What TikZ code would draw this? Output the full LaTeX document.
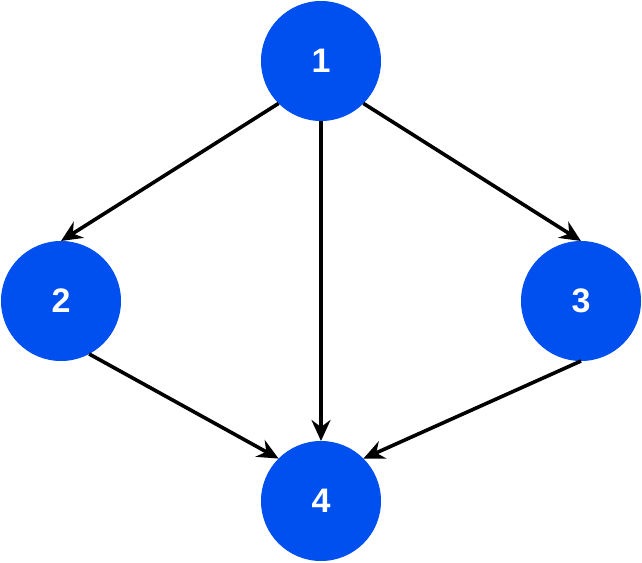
\documentclass[tikz,border=0pt]{standalone}
\usepackage{fontspec}
\setmainfont{Liberation Sans}
\usetikzlibrary{arrows.meta}
\definecolor{nodeblue}{HTML}{0050EF}
\tikzset{
  vert/.style={circle, fill=nodeblue, draw=nodeblue, line width=1pt, minimum size=119pt, inner sep=0pt, text=white, font=\bfseries\fontsize{34}{40}\selectfont},
  link/.style={draw=black, line width=3.6pt, -{Stealth[length=21pt, width=19pt, inset=7pt]}}
}
\begin{document}
\begin{tikzpicture}[x=1pt, y=-1pt]
\useasboundingbox (0,0) rectangle (642,562);
\node[vert] (n1) at (321,61) {1};
\node[vert] (n2) at (61,301) {2};
\node[vert] (n3) at (581,301) {3};
\node[vert] (n4) at (321,501) {4};
\draw[link] (n1.south west) -- (n2.north);
\draw[link] (n1.south east) -- (n3.north);
\draw[link] (n1.south) -- (n4.north);
\draw[link] (n2.-62) -- (n4.north west);
\draw[link] (n3.south) -- (n4.north east);
\end{tikzpicture}
\end{document}
